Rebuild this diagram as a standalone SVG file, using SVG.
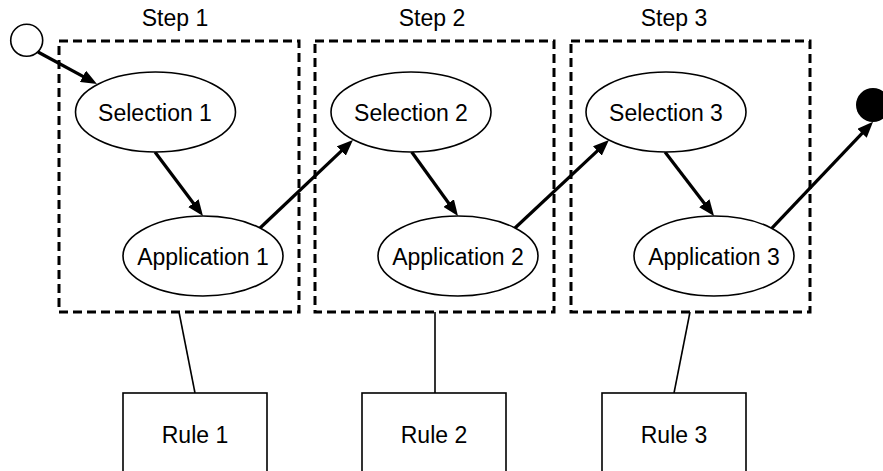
<svg xmlns="http://www.w3.org/2000/svg" width="883" height="471" viewBox="0 0 883 471">
<style>
.step{fill:none;stroke:#000;stroke-width:3;stroke-dasharray:9 5}
.ell{fill:#fff;stroke:#000;stroke-width:1.6}
.rule{fill:#fff;stroke:#000;stroke-width:1.6}
.lbl{font-family:"Liberation Sans",Arial,sans-serif;font-size:23px;fill:#000;text-anchor:middle}
.arr{stroke:#000;stroke-width:3.2;fill:none;marker-end:url(#ah)}
.thin{stroke:#000;stroke-width:1.6;fill:none}
</style>
<defs>
<marker id="ah" markerUnits="userSpaceOnUse" markerWidth="17" markerHeight="13" refX="10" refY="6.5" orient="auto">
<path d="M0,0 L16,6.5 L0,13 z" fill="#000"/>
</marker>
</defs>
<rect width="883" height="471" fill="#fff"/>
<g id="step1"><rect class="step" x="59" y="41" width="240" height="271"/><text class="lbl" x="175" y="26">Step 1</text></g>
<g id="step2"><rect class="step" x="315" y="41" width="239" height="271"/><text class="lbl" x="432" y="26">Step 2</text></g>
<g id="step3"><rect class="step" x="571" y="41" width="239" height="271"/><text class="lbl" x="674" y="26">Step 3</text></g>
<g id="connectors">
<line class="thin" x1="179" y1="312" x2="195" y2="393"/>
<line class="thin" x1="435" y1="312" x2="435" y2="393"/>
<line class="thin" x1="690" y1="312" x2="674" y2="393"/>
<line class="arr" x1="38" y1="52" x2="91.7" y2="81.1"/>
<line class="arr" x1="155" y1="152" x2="199.4" y2="211.2"/>
<line class="arr" x1="259" y1="229" x2="348.6" y2="144.1"/>
<line class="arr" x1="411.7" y1="152" x2="454.5" y2="211.2"/>
<line class="arr" x1="515" y1="228" x2="604.6" y2="144.1"/>
<line class="arr" x1="665" y1="152" x2="710.4" y2="211.2"/>
<line class="arr" x1="771.7" y1="228.3" x2="868.9" y2="126.1"/>
</g>
<g id="start"><circle cx="26.7" cy="40.3" r="16" fill="#fff" stroke="#000" stroke-width="1.6"/></g>
<g id="end"><circle cx="873" cy="105" r="17" fill="#000"/></g>
<g id="sel1"><ellipse class="ell" cx="155.5" cy="112" rx="80" ry="40"/><text class="lbl" x="155" y="121">Selection 1</text></g>
<g id="app1"><ellipse class="ell" cx="203" cy="256" rx="80" ry="40"/><text class="lbl" x="203" y="265">Application 1</text></g>
<g id="sel2"><ellipse class="ell" cx="411" cy="112" rx="80" ry="40"/><text class="lbl" x="411" y="121">Selection 2</text></g>
<g id="app2"><ellipse class="ell" cx="458" cy="256" rx="80" ry="40"/><text class="lbl" x="458" y="265">Application 2</text></g>
<g id="sel3"><ellipse class="ell" cx="666" cy="112" rx="80" ry="40"/><text class="lbl" x="666" y="121">Selection 3</text></g>
<g id="app3"><ellipse class="ell" cx="714" cy="256" rx="80" ry="40"/><text class="lbl" x="714" y="265">Application 3</text></g>
<g id="rule1"><rect class="rule" x="123" y="393" width="144" height="100"/><text class="lbl" x="195" y="443">Rule 1</text></g>
<g id="rule2"><rect class="rule" x="362" y="393" width="144" height="100"/><text class="lbl" x="434" y="443">Rule 2</text></g>
<g id="rule3"><rect class="rule" x="602" y="393" width="144" height="100"/><text class="lbl" x="674" y="443">Rule 3</text></g>
</svg>
